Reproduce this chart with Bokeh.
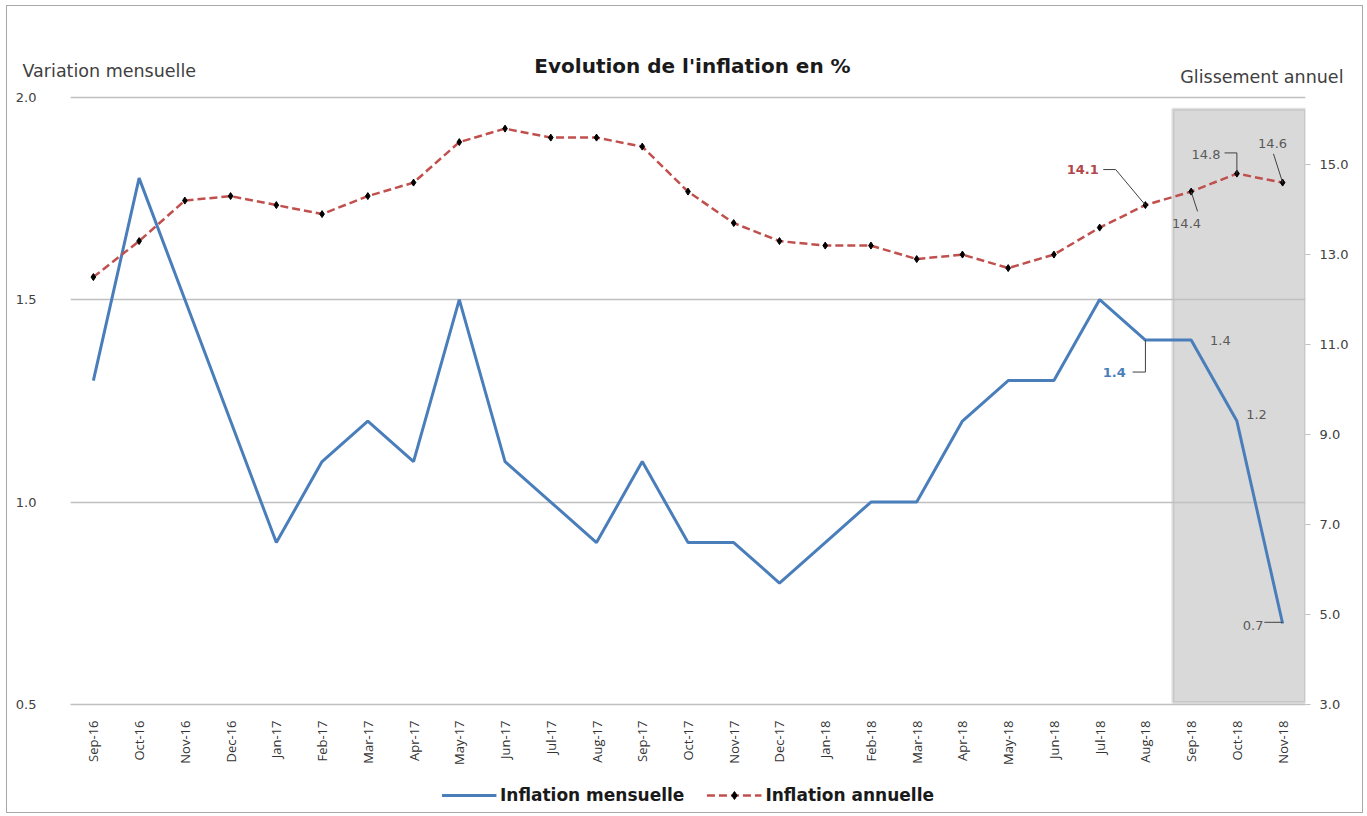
from bokeh.plotting import figure
from bokeh.layouts import column, row
from bokeh.models import (Range1d, LinearAxis, FixedTicker, Label, BoxAnnotation,
                          Legend, LegendItem, FactorRange, NumeralTickFormatter)
from bokeh.embed import file_html
from bokeh.resources import INLINE
from math import pi

months = ["Sep-16", "Oct-16", "Nov-16", "Dec-16", "Jan-17", "Feb-17", "Mar-17", "Apr-17",
          "May-17", "Jun-17", "Jul-17", "Aug-17", "Sep-17", "Oct-17", "Nov-17", "Dec-17",
          "Jan-18", "Feb-18", "Mar-18", "Apr-18", "May-18", "Jun-18", "Jul-18", "Aug-18",
          "Sep-18", "Oct-18", "Nov-18"]
inflation_mensuelle = [1.3, 1.8, 1.5, 1.2, 0.9, 1.1, 1.2, 1.1, 1.5, 1.1, 1.0, 0.9, 1.1,
                       0.9, 0.9, 0.8, 0.9, 1.0, 1.0, 1.2, 1.3, 1.3, 1.5, 1.4, 1.4, 1.2, 0.7]
inflation_annuelle = [12.5, 13.3, 14.2, 14.3, 14.1, 13.9, 14.3, 14.6, 15.5, 15.8, 15.6, 15.6,
                      15.4, 14.4, 13.7, 13.3, 13.2, 13.2, 12.9, 13.0, 12.7, 13.0, 13.6, 14.1,
                      14.4, 14.8, 14.6]
left_ticks = [0.5, 1.0, 1.5, 2.0]
right_ticks = [3.0, 5.0, 7.0, 9.0, 11.0, 13.0, 15.0]

FONT = "DejaVu Sans"
TFONT = "Open Sans"
BLUE = "#4a7ebb"
RED = "#c0504d"
GREY_TXT = "#404040"
W = 1355


def bare(fig):
    fig.axis.visible = False
    fig.grid.visible = False
    fig.outline_line_color = None
    return fig

# ---------- header (titles) ----------
hdr = bare(figure(width=W, height=79, x_range=Range1d(0, W), y_range=Range1d(79, 0),
                  output_backend="svg", toolbar_location=None,
                  min_border_left=0, min_border_right=0, min_border_top=0, min_border_bottom=0))
hdr.add_layout(Label(x=685, y=59, text="Evolution de l'inflation en %",
                     text_font=FONT, text_font_size="20px", text_font_style="bold",
                     text_color="#1a1a1a", text_align="center", text_baseline="middle"))
hdr.add_layout(Label(x=15, y=64, text="Variation mensuelle",
                     text_font=FONT, text_font_size="17.5px", text_color=GREY_TXT,
                     text_align="left", text_baseline="middle"))
hdr.add_layout(Label(x=1336, y=70, text="Glissement annuel",
                     text_font=FONT, text_font_size="17.5px", text_color=GREY_TXT,
                     text_align="right", text_baseline="middle"))

# ---------- main chart ----------
p = figure(width=W, height=682, x_range=FactorRange(*months), y_range=Range1d(0.5, 2.004),
           output_backend="svg", toolbar_location=None,
           min_border_left=63, min_border_right=57, min_border_top=10, min_border_bottom=60)
p.outline_line_color = None
p.extra_y_ranges = {"right": Range1d(3.0, 16.536)}

p.xgrid.grid_line_color = None
p.ygrid.ticker = FixedTicker(ticks=left_ticks)
p.ygrid.grid_line_color = "#c0c0c0"
p.ygrid.grid_line_width = 1.5

box = BoxAnnotation(left=24.1, right=27.0, top=1.97, bottom=0.505,
                    fill_color="#d9d9d9", fill_alpha=1.0,
                    line_color="#a0a0a0", line_width=3, level="underlay")
p.center = [box] + list(p.center)

la = p.yaxis[0]
la.ticker = FixedTicker(ticks=left_ticks)
la.formatter = NumeralTickFormatter(format="0.0")
la.axis_line_color = None
la.major_tick_line_color = None
la.minor_tick_line_color = None
la.major_label_text_font = FONT
la.major_label_text_font_size = "13px"
la.major_label_text_color = GREY_TXT
la.major_label_standoff = 28

ra = LinearAxis(y_range_name="right", ticker=FixedTicker(ticks=right_ticks),
                formatter=NumeralTickFormatter(format="0.0"))
ra.axis_line_color = None
ra.major_tick_line_color = "#bfbfbf"
ra.major_tick_out = 5
ra.major_tick_in = 0
ra.minor_tick_line_color = None
ra.major_label_text_font = FONT
ra.major_label_text_font_size = "13px"
ra.major_label_text_color = GREY_TXT
ra.major_label_standoff = 9
p.add_layout(ra, "right")

xa = p.xaxis[0]
xa.axis_line_color = "#c0c0c0"
xa.axis_line_width = 1.5
xa.major_tick_line_color = None
xa.minor_tick_line_color = None
xa.major_label_orientation = pi / 2
xa.major_label_text_font = TFONT
xa.major_label_text_font_size = "13px"
xa.major_label_text_color = "#333333"
xa.major_label_standoff = 10

l1 = p.line(months, inflation_mensuelle, line_color=BLUE, line_width=3)
l2 = p.line(months, inflation_annuelle, y_range_name="right", line_color=RED,
            line_width=2.5, line_dash="8 4")
s2 = p.scatter(months, inflation_annuelle, y_range_name="right", marker="diamond",
               size=7, fill_color="black", line_color="black")

# callout leader lines
LC = "#404040"
p.line([22.58, 22.85, 23.5], [14.89, 14.89, 14.1], y_range_name="right", line_color=LC, line_width=1)
p.line([24.5, 24.64], [14.4, 13.96], y_range_name="right", line_color=LC, line_width=1)
p.line([25.23, 25.5, 25.5], [15.26, 15.26, 14.8], y_range_name="right", line_color=LC, line_width=1)
p.line([26.3, 26.5], [15.24, 14.6], y_range_name="right", line_color=LC, line_width=1)
p.line([23.22, 23.5, 23.5], [1.321, 1.321, 1.4], line_color=LC, line_width=1)
p.line([26.1, 26.5], [0.703, 0.703], line_color=LC, line_width=1)


def lab(x, y, txt, color="#595959", bold=False, rng="default", align="left"):
    kw = {}
    if rng != "default":
        kw["y_range_name"] = rng
    p.add_layout(Label(x=x, y=y, text=txt, text_font=FONT, text_font_size="13px",
                       text_color=color, text_font_style="bold" if bold else "normal",
                       text_align=align, text_baseline="middle", **kw))

lab(22.48, 14.89, "14.1", color="#b0474a", bold=True, rng="right", align="right")
lab(24.4, 13.7, "14.4", rng="right", align="center")
lab(25.14, 15.22, "14.8", rng="right", align="right")
lab(26.28, 15.46, "14.6", rng="right", align="center")
lab(23.07, 1.319, "1.4", color=BLUE, bold=True, align="right")
lab(25.14, 1.398, "1.4", align="center")
lab(25.93, 1.216, "1.2", align="center")
lab(26.08, 0.694, "0.7", align="right")

# ---------- footer (legend) ----------
ftr = bare(figure(width=W, height=45, x_range=FactorRange(*months), y_range=Range1d(100, 101),
                  output_backend="svg", toolbar_location=None,
                  min_border_left=63, min_border_right=57, min_border_top=11, min_border_bottom=0))
f1 = ftr.line(months, inflation_mensuelle, line_color=BLUE, line_width=3)
f2 = ftr.line(months, inflation_annuelle, line_color=RED, line_width=2.5, line_dash="8 4")
f3 = ftr.scatter(months, inflation_annuelle, marker="diamond", size=7,
                 fill_color="black", line_color="black")
legend = Legend(items=[LegendItem(label="Inflation mensuelle", renderers=[f1]),
                       LegendItem(label="Inflation annuelle", renderers=[f2, f3])],
                orientation="horizontal", location="center",
                label_text_font=FONT, label_text_font_size="17px",
                label_text_font_style="bold", label_text_color="#1a1a1a",
                border_line_color=None, background_fill_alpha=0,
                spacing=22, glyph_width=55, label_standoff=4, padding=0, margin=0)
ftr.add_layout(legend)

layout = column(row(hdr), p, ftr, spacing=0, margin=(5, 0, 0, 6),
                styles={"border": "1px solid #a8a8a8"})
open("out.html", "w").write(file_html(layout, INLINE))
